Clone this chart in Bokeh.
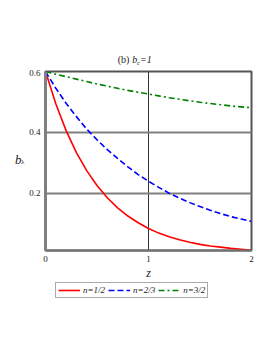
from bokeh.plotting import figure
from bokeh.layouts import column, row
from bokeh.models import Label, Legend, LegendItem, FixedTicker, Range1d
from bokeh.embed import file_html
from bokeh.resources import INLINE

z = [0.0, 0.1, 0.2, 0.3, 0.4, 0.5, 0.6, 0.7, 0.8, 0.9, 1.0,
     1.1, 1.2, 1.3, 1.4, 1.5, 1.6, 1.7, 1.8, 1.9, 2.0]
b_half = [0.600, 0.494, 0.406, 0.334, 0.275, 0.226, 0.186, 0.153, 0.126, 0.104, 0.085,
          0.070, 0.058, 0.048, 0.040, 0.033, 0.028, 0.024, 0.020, 0.017, 0.014]
b_two_thirds = [0.600, 0.545, 0.496, 0.452, 0.411, 0.376, 0.344, 0.315, 0.287, 0.262, 0.240,
                0.220, 0.201, 0.185, 0.170, 0.157, 0.145, 0.134, 0.124, 0.116, 0.108]
b_three_halves = [0.600, 0.591, 0.583, 0.575, 0.567, 0.559, 0.552, 0.545, 0.538, 0.532, 0.526,
                  0.520, 0.514, 0.509, 0.504, 0.499, 0.495, 0.491, 0.487, 0.484, 0.481]
x_ticks = [0, 1, 2]
y_ticks = [0.2, 0.4, 0.6]
series_names = ["n=1/2", "n=2/3", "n=3/2"]
colors = ["#ff0000", "#0000ff", "#008000"]
dashes = ["solid", "6 3", "6 3 2 3"]
series = [b_half, b_two_thirds, b_three_halves]

SERIF = "Liberation Serif"
TXT = "#222222"
W = 265
YLAB_W = 25
MAIN_H = 213
Y_MIN, Y_MAX = 0.013, 0.6

def bare(fig):
    fig.background_fill_color = "white"
    fig.border_fill_color = "white"
    fig.outline_line_color = None
    fig.grid.visible = False

def add_label(fig, x, y, text, size, style="italic"):
    fig.add_layout(Label(x=x, y=y, text=text, text_font=SERIF, text_font_size=size,
                         text_font_style=style, text_align="left", text_baseline="middle",
                         text_color=TXT))

# ---- title strip (frame spans x 55..251 of the page) ----
p_top = figure(width=W, height=69, output_backend="svg", toolbar_location=None,
               x_range=Range1d(0, 2), y_range=Range1d(0, 69),
               x_axis_location=None, y_axis_location=None,
               min_border_left=55, min_border_right=14, min_border_top=0, min_border_bottom=0)
bare(p_top)
add_label(p_top, 0.634, 10, "(b)", "10px", style="normal")
add_label(p_top, 0.784, 10, "b", "10px")
add_label(p_top, 0.832, 7.5, "c", "6.5px")
add_label(p_top, 0.861, 10, "=1", "10px")

# ---- y label strip (its frame lines up with the main frame) ----
p_ylab = figure(width=YLAB_W, height=MAIN_H, output_backend="svg", toolbar_location=None,
                x_range=Range1d(0, YLAB_W), y_range=Range1d(Y_MIN, Y_MAX),
                x_axis_location=None, y_axis_location=None,
                min_border_left=0, min_border_right=0, min_border_top=2, min_border_bottom=30)
bare(p_ylab)
add_label(p_ylab, 14.5, 0.310, "b", "13px")
add_label(p_ylab, 20.5, 0.303, "\u03bb", "7px", style="normal")

# ---- main plot ----
p = figure(width=W - YLAB_W, height=MAIN_H, output_backend="svg", toolbar_location=None,
           x_range=Range1d(0, 2), y_range=Range1d(Y_MIN, Y_MAX),
           min_border_left=20, min_border_right=14, min_border_top=2, min_border_bottom=30)
p.background_fill_color = "white"
p.border_fill_color = "white"
p.outline_line_color = "#555555"
p.outline_line_width = 2

for ys, c, d in zip(series, colors, dashes):
    p.line(z, ys, line_color=c, line_width=1.6, line_dash=d)

for ax in (p.xaxis[0], p.yaxis[0]):
    ax.major_tick_line_color = None
    ax.minor_tick_line_color = None
    ax.major_tick_out = 0
    ax.minor_tick_out = 0
    ax.major_tick_in = 0
    ax.minor_tick_in = 0
    ax.major_label_text_font = SERIF
    ax.major_label_text_font_size = "9px"
    ax.major_label_text_color = TXT
    ax.major_label_standoff = 5
p.xaxis.ticker = FixedTicker(ticks=x_ticks)
p.yaxis.ticker = FixedTicker(ticks=y_ticks)
p.xaxis.axis_line_color = "#707070"
p.xaxis.axis_line_width = 2
p.yaxis.axis_line_color = "#808080"
p.yaxis.axis_line_width = 3
p.xaxis.axis_label = "z"
p.xaxis.axis_label_text_font = SERIF
p.xaxis.axis_label_text_font_style = "italic"
p.xaxis.axis_label_text_font_size = "12px"
p.xaxis.axis_label_text_color = TXT
p.xaxis.axis_label_standoff = 1

p.xgrid.ticker = FixedTicker(ticks=[1])
p.xgrid.grid_line_color = "#333333"
p.xgrid.grid_line_width = 1
p.ygrid.ticker = FixedTicker(ticks=[0.2, 0.4])
p.ygrid.grid_line_color = "#808080"
p.ygrid.grid_line_width = 2

# ---- legend strip (series drawn out of view, only their legend glyphs show) ----
p_leg = figure(width=W, height=30, output_backend="svg", toolbar_location=None,
               x_range=Range1d(0, 2), y_range=Range1d(10, 11),
               x_axis_location=None, y_axis_location=None,
               min_border_left=55, min_border_right=0, min_border_top=0, min_border_bottom=0)
bare(p_leg)
items = []
for name, ys, c, d in zip(series_names, series, colors, dashes):
    r = p_leg.line(z, ys, line_color=c, line_width=1.6, line_dash=d)
    items.append(LegendItem(label=name, renderers=[r]))

legend = Legend(items=items, orientation="horizontal", location="top_left")
legend.label_text_font = SERIF
legend.label_text_font_style = "italic"
legend.label_text_font_size = "9px"
legend.label_text_color = TXT
legend.glyph_width = 22
legend.glyph_height = 10
legend.label_standoff = 3
legend.spacing = 3
legend.padding = 2
legend.margin = 0
legend.label_height = 10
legend.border_line_color = "#555555"
legend.border_line_width = 1.5
p_leg.add_layout(legend, "center")

layout = column(p_top, row(p_ylab, p, spacing=0), p_leg, spacing=0)
open("out.html", "w").write(file_html(layout, INLINE))
